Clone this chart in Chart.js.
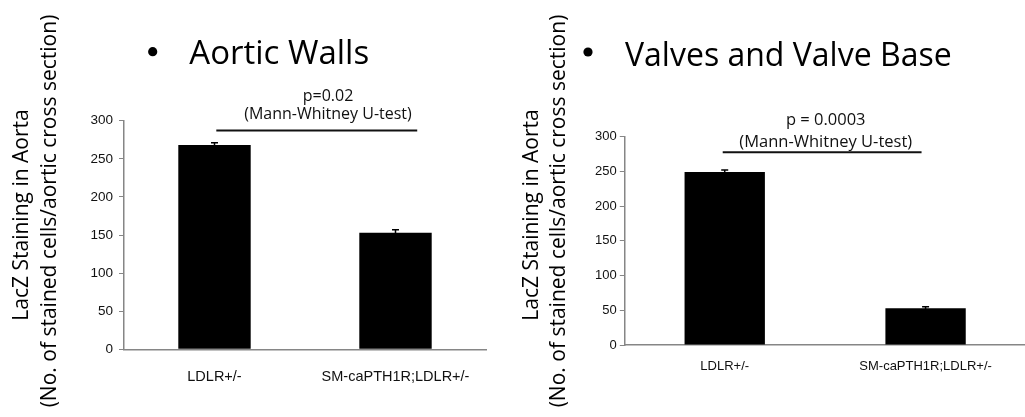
<!DOCTYPE html>
<html>
<head>
<meta charset="utf-8">
<script src="https://cdn.jsdelivr.net/npm/chart.js@4.4.1/dist/chart.umd.min.js"></script>
<style>
  html, body { margin: 0; padding: 0; background: #fff; overflow: hidden; width: 1025px; height: 417px; }
  #wrap { position: relative; width: 1025px; height: 417px; overflow: hidden; }
  canvas { position: absolute; top: 0; }
</style>
</head>
<body>
<div id="wrap">
  <canvas id="walls" width="512" height="417" style="left:0;width:512px;height:417px"></canvas>
  <canvas id="valves" width="530" height="417" style="left:512px;width:530px;height:417px"></canvas>
</div>
<script>
// Groups and measurements
const categories = ['LDLR+/-', 'SM-caPTH1R;LDLR+/-'];
const wallValues = [268, 153];
const wallErrors = [3, 4];
const valveValues = [249, 53];
const valveErrors = [3, 2];
const yTicks = [0, 50, 100, 150, 200, 250, 300];
const yAxisTitle = ['LacZ Staining in Aorta', '(No. of stained cells/aortic cross section)'];
const wallTitle = 'Aortic Walls';
const valveTitle = 'Valves and Valve Base';
const wallStats = ['p=0.02', '(Mann-Whitney U-test)'];
const valveStats = ['p = 0.0003', '(Mann-Whitney U-test)'];
// Significance bracket: [from category position, to category position, y value]
const wallBracket = [0.01, 1.12, 287];
const valveBracket = [-0.01, 0.98, 277.5];

const AXIS = '#868686';
const TEXT_FONT = '"Open Sans", "DejaVu Sans", sans-serif';
const TICK_FONT = '"Liberation Sans", Arial, sans-serif';

// Draws error whiskers, the significance bracket, slide title and axis title
const overlay = {
  id: 'overlay',
  afterDatasetsDraw(chart, args, o) {
    const ctx = chart.ctx;
    const xs = chart.scales.x, ys = chart.scales.y;
    const ds = chart.data.datasets[0];
    const meta = chart.getDatasetMeta(0);
    ctx.save();
    // error bars
    ctx.strokeStyle = '#000';
    ctx.lineWidth = 1.5;
    meta.data.forEach((bar, i) => {
      const v = ds.data[i], e = o.errors[i];
      const yt = ys.getPixelForValue(v + e);
      const yb = ys.getPixelForValue(v - e);
      ctx.beginPath();
      ctx.moveTo(bar.x, yb); ctx.lineTo(bar.x, yt);
      ctx.moveTo(bar.x - o.cap, yt); ctx.lineTo(bar.x + o.cap, yt);
      ctx.stroke();
    });
    // significance bracket
    const [b0, b1, bv] = o.bracket;
    const by = ys.getPixelForValue(bv);
    ctx.strokeStyle = '#111';
    ctx.lineWidth = 2;
    ctx.beginPath();
    ctx.moveTo(xs.getPixelForValue(b0), by);
    ctx.lineTo(xs.getPixelForValue(b1), by);
    ctx.stroke();
    ctx.fillStyle = '#111';
    ctx.font = o.statSize + 'px ' + TEXT_FONT;
    ctx.textAlign = 'center';
    ctx.textBaseline = 'alphabetic';
    const sx = xs.getPixelForValue(o.statX);
    ctx.fillText(o.stats[0], sx, by + o.statDy[0]);
    ctx.fillText(o.stats[1], sx, by + o.statDy[1]);
    // slide-style heading with bullet
    ctx.fillStyle = '#000';
    ctx.beginPath();
    ctx.arc(o.bullet[0], o.bullet[1], 4.6, 0, Math.PI * 2);
    ctx.fill();
    ctx.font = o.titleSize + 'px ' + TEXT_FONT;
    ctx.textAlign = 'left';
    ctx.fillText(o.title, o.titlePos[0], o.titlePos[1]);
    // rotated two-line axis title
    ctx.font = '21px ' + TEXT_FONT;
    ctx.textAlign = 'center';
    ctx.textBaseline = 'middle';
    yAxisTitle.forEach((line, i) => {
      ctx.save();
      ctx.translate(o.yTitleX[i], o.yTitleY[i]);
      ctx.rotate(-Math.PI / 2);
      ctx.fillText(line, 0, 0);
      ctx.restore();
    });
    ctx.restore();
  }
};

function makeChart(id, values, cfg) {
  return new Chart(document.getElementById(id), {
    type: 'bar',
    data: {
      labels: categories,
      datasets: [{
        data: values,
        backgroundColor: '#000',
        borderWidth: 0,
        barPercentage: 0.4,
        categoryPercentage: 1
      }]
    },
    options: {
      responsive: false,
      animation: false,
      devicePixelRatio: 1,
      layout: { padding: { left: 0, top: cfg.top, right: cfg.right, bottom: 0 } },
      plugins: {
        legend: { display: false },
        tooltip: { enabled: false },
        overlay: cfg.overlay
      },
      scales: {
        x: {
          grid: { display: false, drawTicks: false },
          border: { color: AXIS, width: 1.5 },
          ticks: {
            font: { family: TICK_FONT, size: cfg.xFont },
            color: '#111',
            padding: cfg.xPad,
            maxRotation: 0,
            autoSkip: false
          },
          afterFit(s) { s.height = cfg.xHeight; }
        },
        y: {
          min: 0,
          max: 300,
          afterBuildTicks(s) { s.ticks = yTicks.map(v => ({ value: v })); },
          grid: { drawOnChartArea: false, drawTicks: true, tickLength: cfg.tickLen, color: AXIS, lineWidth: 1 },
          border: { color: AXIS, width: 1.5 },
          ticks: {
            font: { family: TICK_FONT, size: cfg.yFont },
            color: '#111',
            padding: cfg.yPad
          },
          afterFit(s) { s.width = cfg.yWidth; }
        }
      }
    },
    plugins: [overlay]
  });
}

makeChart('walls', wallValues, {
  top: 120.7, right: 26, xHeight: 67.7, yWidth: 124,
  xFont: 14.5, xPad: 19, yFont: 13.5, yPad: 6, tickLen: 5,
  overlay: {
    errors: wallErrors, cap: 3.5,
    bracket: wallBracket, stats: wallStats, statX: 0.627, statDy: [-30, -11.7], statSize: 16,
    title: wallTitle, titleSize: 33, titlePos: [189.3, 64.3], bullet: [152.7, 51.7],
    yTitleX: [21.7, 50], yTitleY: [215, 211]
  }
});

makeChart('valves', valveValues, {
  top: 136.7, right: 16, xHeight: 72, yWidth: 112.3,
  xFont: 13, xPad: 14, yFont: 13, yPad: 3, tickLen: 4.5,
  overlay: {
    errors: valveErrors, cap: 3.5,
    bracket: valveBracket, stats: valveStats, statX: 0.503, statDy: [-27.3, -5.6], statSize: 16.5,
    title: valveTitle, titleSize: 32, titlePos: [113, 66], bullet: [76, 52],
    yTitleX: [20, 47], yTitleY: [215, 211]
  }
});
</script>
</body>
</html>
